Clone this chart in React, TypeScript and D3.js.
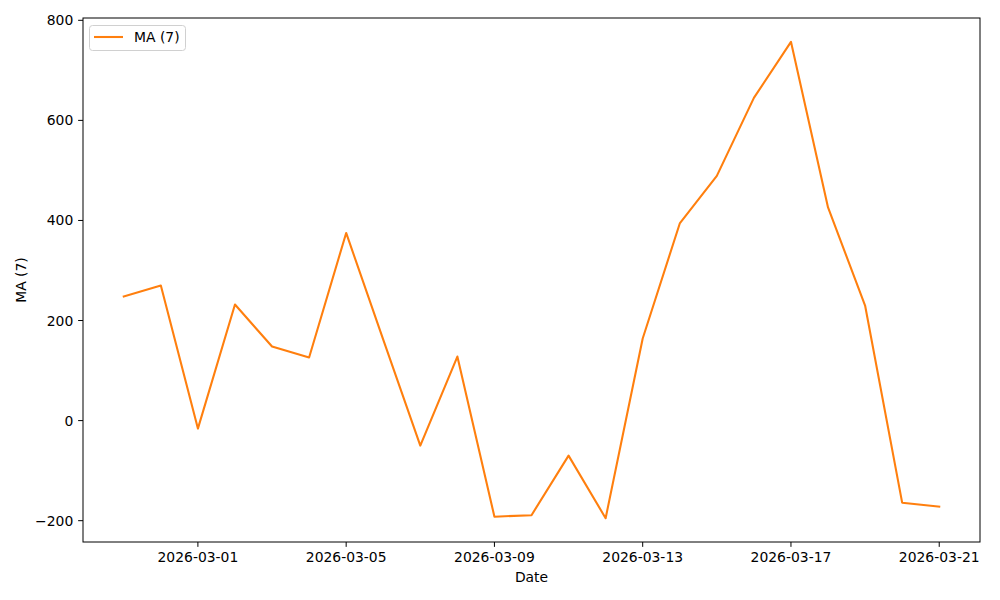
import React from "react";
import * as d3 from "d3";

const dates: string[] = [
  "2026-02-27", "2026-02-28", "2026-03-01", "2026-03-02", "2026-03-03", "2026-03-04",
  "2026-03-05", "2026-03-06", "2026-03-07", "2026-03-08", "2026-03-09", "2026-03-10",
  "2026-03-11", "2026-03-12", "2026-03-13", "2026-03-14", "2026-03-15", "2026-03-16",
  "2026-03-17", "2026-03-18", "2026-03-19", "2026-03-20", "2026-03-21",
];
const ma7: number[] = [
  248, 270, -16, 232, 148, 126, 375, 162, -50, 128, -192, -189,
  -70, -195, 164, 394, 489, 645, 757, 426, 230, -164, -172,
];
const xTickLabels: string[] = ["2026-03-01", "2026-03-05", "2026-03-09", "2026-03-13", "2026-03-17", "2026-03-21"];
const yTicks: number[] = [-200, 0, 200, 400, 600, 800];

const parse = (s: string) => {
  const [y, m, d] = s.split("-").map(Number);
  return new Date(Date.UTC(y, m - 1, d));
};

export default function App() {
  const W = 1000, H = 600;
  const L = 83, R = 980, T = 18, B = 542;
  const fs = 13.9;
  const font = "DejaVu Sans, sans-serif";

  const xs = dates.map(parse);
  const x0 = +xs[0], x1 = +xs[xs.length - 1];
  const xpad = (x1 - x0) * 0.05;
  const x = d3.scaleUtc().domain([new Date(x0 - xpad), new Date(x1 + xpad)]).range([L, R]);
  const ymin = d3.min(ma7)!, ymax = d3.max(ma7)!;
  const ypad = (ymax - ymin) * 0.05;
  const y = d3.scaleLinear().domain([ymin - ypad, ymax + ypad]).range([B, T]);

  const line = d3.line<number>().x((_, i) => x(xs[i])).y((v) => y(v));
  const fmt = (v: number) => (v < 0 ? "\u2212" + Math.abs(v) : String(v));

  return (
    <svg width={W} height={H} style={{ position: "absolute", left: 0, top: 0, background: "#fff" }} fontFamily={font}>
      <rect x={0} y={0} width={W} height={H} fill="#fff" />
      <path d={line(ma7) || ""} fill="none" stroke="#ff7f0e" strokeWidth={2.08} strokeLinejoin="round" strokeLinecap="square" />
      <rect x={L} y={T} width={R - L} height={B - T} fill="none" stroke="#000" strokeWidth={1} />
      {xTickLabels.map((t) => {
        const px = x(parse(t));
        return (
          <g key={t}>
            <line x1={px} x2={px} y1={B} y2={B + 4.86} stroke="#000" strokeWidth={1} />
            <text x={px} y={B + 4.86 + 4.86 + 10.5} fontSize={fs} textAnchor="middle" fill="#000">{t}</text>
          </g>
        );
      })}
      {yTicks.map((t) => {
        const py = y(t);
        return (
          <g key={t}>
            <line x1={L - 4.86} x2={L} y1={py} y2={py} stroke="#000" strokeWidth={1} />
            <text x={L - 4.86 - 4.86} y={py} dy="0.36em" fontSize={fs} textAnchor="end" fill="#000">{fmt(t)}</text>
          </g>
        );
      })}
      <text x={(L + R) / 2} y={582} fontSize={fs} textAnchor="middle" fill="#000">Date</text>
      <text transform={`translate(26,${(T + B) / 2}) rotate(-90)`} fontSize={fs} textAnchor="middle" fill="#000">MA (7)</text>
      <g>
        <rect x={89.5} y={25.5} width={96} height={25} rx={3} fill="#fff" fillOpacity={0.8} stroke="#d0d0d0" strokeWidth={1} />
        <line x1={94} x2={123} y1={37} y2={37} stroke="#ff7f0e" strokeWidth={2.08} />
        <text x={134} y={37} dy="0.36em" fontSize={fs} fill="#000">MA (7)</text>
      </g>
    </svg>
  );
}
